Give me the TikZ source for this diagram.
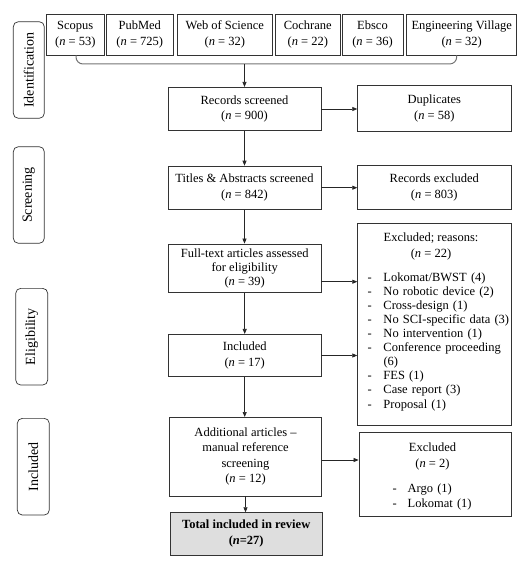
\documentclass[tikz,border=0pt]{standalone}
\usepackage{fontspec}
\setmainfont{Liberation Serif}
\usetikzlibrary{arrows.meta,calc}
\begin{document}
\begin{tikzpicture}[x=1pt,y=-1pt,
  font=\fontsize{12.5}{15.5}\selectfont,
  box/.style={draw=black!80, line width=0.7pt, align=center, inner sep=1pt},
  side/.style={draw=black!80, line width=0.7pt, rounded corners=5pt, rotate=90,
    font=\fontsize{14}{16}\selectfont, inner sep=0pt},
  arr/.style={-{Triangle[length=5pt,width=4pt]}, line width=0.7pt, draw=black!85},
  brk/.style={draw=black!55, line width=1pt, rounded corners=7pt},
  plain/.style={inner sep=0pt, align=left, text width=150pt},
  lst/.style={font=\fontsize{12.5}{14.07}\selectfont}]
\useasboundingbox (0,0) rectangle (523,561);

% side labels
\node[side, minimum width=96.6pt, minimum height=31pt] (sid) at (28.8,70) {Identification};
\node[side, minimum width=96.6pt, minimum height=31pt] (ssc) at (28.8,195) {Screening};
\node[side, minimum width=96.7pt, minimum height=32pt] (sel) at (31.7,336.7) {Eligibility};
\node[side, minimum width=96.7pt, minimum height=32pt] (sin) at (33.3,466.7) {Included};

% databases
\node[box, minimum width=57.3pt, minimum height=41pt] (scopus) at (75.3,34.5) {Scopus\\(\textit{n} = 53)};
\node[box, minimum width=67.5pt, minimum height=41pt] (pubmed) at (139.8,34.5) {PubMed\\(\textit{n} = 725)};
\node[box, minimum width=95.7pt, minimum height=41pt] (wos) at (224.8,34.5) {Web of Science\\(\textit{n} = 32)};
\node[box, minimum width=64.3pt, minimum height=41pt] (coch) at (307.8,34.5) {Cochrane\\(\textit{n} = 22)};
\node[box, minimum width=61pt, minimum height=41pt] (ebsco) at (372.5,34.5) {Ebsco\\(\textit{n} = 36)};
\node[box, minimum width=110pt, minimum height=41pt] (ev) at (461.7,34.5) {Engineering Village\\(\textit{n} = 32)};

% main column
\node[box, minimum width=153pt, minimum height=43.4pt] (rec) at (244.5,109) {Records screened\\(\textit{n} = 900)};
\node[box, minimum width=153.3pt, minimum height=46pt] (dup) at (434.3,108.7) {Duplicates\\(\textit{n} = 58)};
\node[box, minimum width=153pt, minimum height=43.3pt] (tit) at (244.5,187.7) {Titles \& Abstracts screened\\(\textit{n} = 842)};
\node[box, minimum width=153.3pt, minimum height=44pt] (rex) at (434.3,187.3) {Records excluded\\(\textit{n} = 803)};
\node[box, minimum width=152.7pt, minimum height=48.7pt, font=\fontsize{12.5}{14.3}\selectfont] (full) at (244.7,268.3) {Full-text articles assessed\\for eligibility\\(\textit{n} = 39)};
\node[box, minimum width=153.3pt, minimum height=202.4pt] (excl) at (434.3,324.5) {};
\node[box, minimum width=152.7pt, minimum height=42.4pt] (incl) at (244.7,355.5) {Included\\(\textit{n} = 17)};
\node[box, minimum width=152.4pt, minimum height=78.7pt] (add) at (245.5,456.7) {Additional articles --\\manual reference\\screening\\(\textit{n} = 12)};
\node[box, minimum width=152.7pt, minimum height=83.7pt] (excl2) at (435.3,474.2) {};
\node[box, minimum width=152.3pt, minimum height=42.3pt, fill=black!13, font=\bfseries\fontsize{12.5}{16}\selectfont] (total) at (246.2,533.8) {Total included in review\\(\textit{n}=27)};

% excluded (reasons) text
\node[inner sep=0pt, align=center] (exh) at (431,246.5) {Excluded; reasons:\\(\textit{n} = 22)};
\node[plain, lst, anchor=north west] (exl) at (367.5,272.5) {%
\makebox[15.8pt][l]{-}Lokomat/BWST (4)\\
\makebox[15.8pt][l]{-}No robotic device (2)\\
\makebox[15.8pt][l]{-}Cross-design (1)\\
\makebox[15.8pt][l]{-}No SCI-specific data (3)\\
\makebox[15.8pt][l]{-}No intervention (1)\\
\makebox[15.8pt][l]{-}Conference proceeding\\
\hspace*{15.8pt}(6)\\
\makebox[15.8pt][l]{-}FES (1)\\
\makebox[15.8pt][l]{-}Case report (3)\\
\makebox[15.8pt][l]{-}Proposal (1)};

% excluded 2 text
\node[inner sep=0pt, align=center] (e2h) at (432.5,456.5) {Excluded\\(\textit{n} = 2)};
\node[plain, anchor=north west, font=\fontsize{12.5}{15}\selectfont] (e2l) at (392.5,484) {%
\makebox[15pt][l]{-}Argo (1)\\
\makebox[15pt][l]{-}Lokomat (1)};

% bracket
\coordinate (bm) at (rec.north |- 0,64);
\draw[brk] ([xshift=0.7pt]scopus.south) |- (bm) -| ([xshift=-5pt]ev.south);
\draw[arr] (bm) -- (rec.north);

% vertical arrows
\draw[arr] (rec.south) -- (rec.south |- tit.north);
\draw[arr] (tit.south) -- (tit.south |- full.north);
\draw[arr] (full.south) -- (full.south |- incl.north);
\draw[arr] (incl.south) -- (incl.south |- add.north);
\draw[arr] (add.south) -- (add.south |- total.north);

% horizontal arrows
\draw[arr] (rec.east) -- (rec.east -| dup.west);
\draw[arr] (tit.east) -- (tit.east -| rex.west);
\draw[arr] ([yshift=-13.4pt]full.east) -- ([yshift=-13.4pt]full.east -| excl.west);
\draw[arr] (incl.east) -- (incl.east -| excl.west);
\draw[arr] ([yshift=-3.3pt]add.east) -- ([yshift=-3.3pt]add.east -| excl2.west);
\end{tikzpicture}
\end{document}
